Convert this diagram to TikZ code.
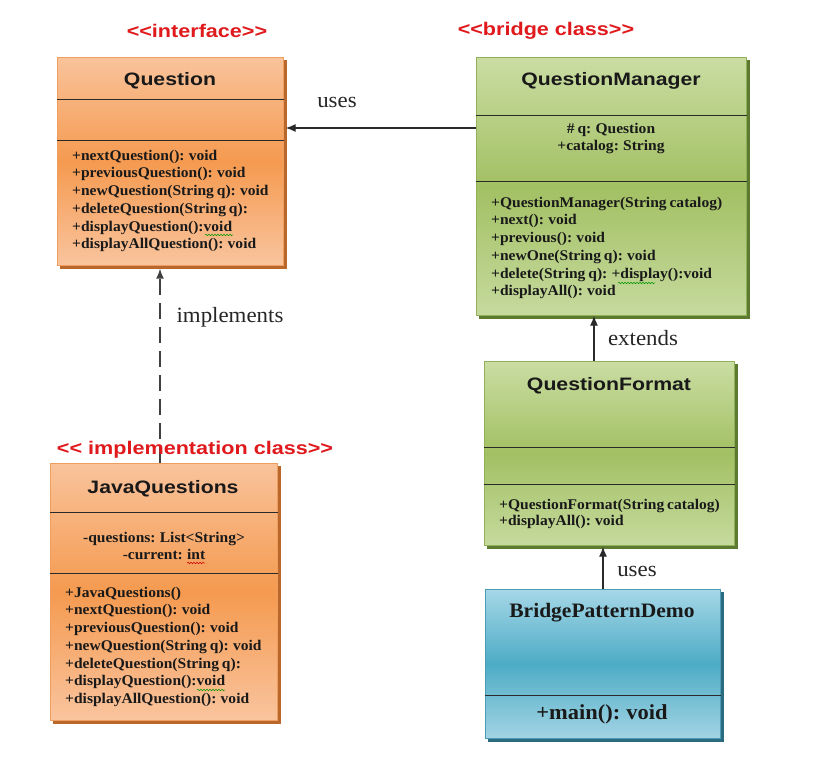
\documentclass[tikz,border=0pt]{standalone}
\usepackage{fontspec}
\setmainfont{Liberation Serif}
\newfontfamily\sansstretch[FakeStretch=1.18]{Liberation Sans}
\newfontfamily\serifstretch[FakeStretch=1.05,WordSpace=0.75]{Liberation Serif}
\usetikzlibrary{arrows.meta,backgrounds,decorations.pathmorphing}

\definecolor{orTop}{HTML}{F9C39B}
\definecolor{orMid}{HTML}{F59A50}
\definecolor{orBot}{HTML}{F9C49E}
\definecolor{orEdge}{HTML}{EE9E5E}
\definecolor{orShadow}{HTML}{B9672A}
\definecolor{grTop}{HTML}{CADDA3}
\definecolor{grMid}{HTML}{A2C063}
\definecolor{grBot}{HTML}{C6DA9E}
\definecolor{grEdge}{HTML}{92B05A}
\definecolor{grShadow}{HTML}{5C7A30}
\definecolor{blTop}{HTML}{A6D7E7}
\definecolor{blMid}{HTML}{4DACC6}
\definecolor{blBot}{HTML}{A3D4E4}
\definecolor{blEdge}{HTML}{4A9DB5}
\definecolor{blShadow}{HTML}{2C6A80}
\definecolor{stereo}{HTML}{E0191C}
\definecolor{linecol}{HTML}{2A2A2A}

\tikzset{
  classbox/.style={draw=#1Edge, line width=0.7pt, anchor=north west, inner sep=0pt,
    top color=#1Top, bottom color=#1Bot, middle color=#1Mid},
  divider/.style={draw=linecol, line width=1pt},
  titletext/.style={font=\sansstretch\bfseries\fontsize{18}{21}\selectfont, inner sep=0pt, text=black!90},
  serftitle/.style={font=\serifstretch\bfseries\fontsize{20.5}{23}\selectfont, inner sep=0pt, text=black!90},
  members/.style={font=\serifstretch\bfseries\fontsize{14.8}{17.7}\selectfont, inner sep=0pt, align=left, anchor=north west, text=black!90},
  attrs/.style={font=\serifstretch\bfseries\fontsize{14.8}{17}\selectfont, inner sep=0pt, align=center, text=black!90},
  stereotype/.style={font=\sansstretch\bfseries\fontsize{18.3}{21}\selectfont, text=stereo, inner sep=0pt},
  conlabel/.style={font=\serifstretch\fontsize{21.8}{24}\selectfont, inner sep=0pt, text=black!85},
  arrowline/.style={draw=linecol, line width=1.2pt, -{Latex[length=10pt,width=8pt]}},
  dashline/.style={draw=black!75, line width=1.4pt, dash pattern=on 16pt off 8pt, -{Latex[length=10pt,width=8pt]}},
  squig/.style={line width=0.5pt, decorate, decoration={snake, segment length=3pt, amplitude=0.8pt}},
}

\begin{document}
\begin{tikzpicture}[x=1pt,y=-1pt]
\begin{scope}[on background layer]
  \fill[white] (0,0) rectangle (835,783);
\end{scope}
\useasboundingbox (0,0) rectangle (835,783);

% ---------- class boxes ----------
\node[classbox=or, minimum width=226pt, minimum height=208pt] (q)    at (57,57)  {};
\node[classbox=gr, minimum width=270pt, minimum height=258pt] (qmgr) at (476,57) {};
\node[classbox=gr, minimum width=250pt, minimum height=184pt] (qf)   at (484,361) {};
\node[classbox=bl, minimum width=235pt, minimum height=149pt] (bpd)  at (485,589) {};
\node[classbox=or, minimum width=227pt, minimum height=257pt] (jq)   at (50,463) {};

% shadows
\begin{scope}[on background layer]
  \fill[orShadow] ([shift={(3,3)}]q.south west) rectangle ([shift={(3,3)}]q.north east);
  \fill[grShadow] ([shift={(3,3)}]qmgr.south west) rectangle ([shift={(3,3)}]qmgr.north east);
  \fill[grShadow] ([shift={(3,3)}]qf.south west) rectangle ([shift={(3,3)}]qf.north east);
  \fill[blShadow] ([shift={(3,3)}]bpd.south west) rectangle ([shift={(3,3)}]bpd.north east);
  \fill[orShadow] ([shift={(3,3)}]jq.south west) rectangle ([shift={(3,3)}]jq.north east);
\end{scope}

% dividers
\draw[divider] (q.west |- 0,100) -- (q.east |- 0,100);
\draw[divider] (q.west |- 0,141) -- (q.east |- 0,141);
\draw[divider] (qmgr.west |- 0,116) -- (qmgr.east |- 0,116);
\draw[divider] (qmgr.west |- 0,182) -- (qmgr.east |- 0,182);
\draw[divider] (qf.west |- 0,447) -- (qf.east |- 0,447);
\draw[divider] (qf.west |- 0,484) -- (qf.east |- 0,484);
\draw[divider] (bpd.west |- 0,695) -- (bpd.east |- 0,695);
\draw[divider] (jq.west |- 0,512) -- (jq.east |- 0,512);
\draw[divider] (jq.west |- 0,573) -- (jq.east |- 0,573);

% ---------- texts ----------
\node[titletext] (qT) at (170,81) {Question};
\node[members] (qM) at (72,149.8) {+nextQuestion(): void\\+previousQuestion(): void\\+newQuestion(String q): void\\+deleteQuestion(String q):\\+displayQuestion():void\\+displayAllQuestion(): void};

\node[titletext] (qmgrT) at (611,81) {QuestionManager};
\node[attrs] (qmgrA) at (611,138.5) {\# q: Question\\+catalog: String};
\node[members] (qmgrM) at (491,196.8) {+QuestionManager(String catalog)\\+next(): void\\+previous(): void\\+newOne(String q): void\\+delete(String q): +display():void\\+displayAll(): void};

\node[titletext] (qfT) at (609,386) {QuestionFormat};
\node[members, font=\serifstretch\bfseries\fontsize{14.8}{16.5}\selectfont] (qfM) at (499,498.8) {+QuestionFormat(String catalog)\\+displayAll(): void};

\node[serftitle] (bpdT) at (602,613) {BridgePatternDemo};
\node[serftitle, font=\serifstretch\bfseries\fontsize{21.4}{23}\selectfont] (bpdM) at (602,714) {+main(): void};

\node[titletext] (jqT) at (163,489) {JavaQuestions};
\node[attrs] (jqA) at (164,545.5) {-questions: List<String>\\-current: int};
\node[members] (jqM) at (65,586.8) {+JavaQuestions()\\+nextQuestion(): void\\+previousQuestion(): void\\+newQuestion(String q): void\\+deleteQuestion(String q):\\+displayQuestion():void\\+displayAllQuestion(): void};

% spell-check squiggles
\draw[squig, green!60!black] (205,235) -- (233,235);
\draw[squig, green!60!black] (197,690) -- (225,690);
\draw[squig, red!80!black] (187,563) -- (205,563);
\draw[squig, green!60!black] (618,283) -- (655,283);

% stereotypes
\node[stereotype] (s1) at (197,31) {<\kern0pt<interface>\kern0pt>};
\node[stereotype] (s2) at (546,31) {<\kern0pt<bridge class>\kern0pt>};

% ---------- connectors ----------
\coordinate (usesY) at (0,128);
\draw[arrowline] (qmgr.west |- usesY) -- ([xshift=2pt]q.east |- usesY);
\node[conlabel] (l1) at (337,102) {uses};

\draw[dashline] (jq.north -| 160,0) -- ([yshift=-3pt]q.south -| 160,0);
\node[stereotype] (s3) at (195,450) {<\kern0pt< implementation class>\kern0pt>};
\node[conlabel] (l2) at (230,317) {implements};

\draw[arrowline] (qf.north -| 594,0) -- (qmgr.south -| 594,0);
\node[conlabel] (l3) at (643,338) {extends};

\draw[arrowline] (bpd.north -| 603,0) -- ([yshift=-1pt]qf.south -| 603,0);
\node[conlabel] (l4) at (637,571) {uses};
\end{tikzpicture}
\end{document}
